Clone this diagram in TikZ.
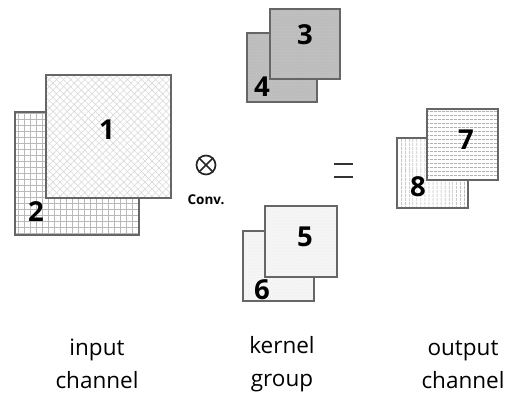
\documentclass[tikz,border=0pt]{standalone}
\usepackage{fontspec}
\setmainfont{Open Sans}
\usetikzlibrary{patterns.meta}
\begin{document}
\begin{tikzpicture}[x=1pt,y=-1pt,
  frame/.style={draw=gray!80!black, line width=1.3pt},
  num/.style={font=\fontsize{27.5}{27.5}\selectfont\bfseries, text=black, inner sep=0pt},
  caption/.style={font=\fontsize{22.5}{33}\selectfont, align=center, text=black, inner sep=0pt},
  hatch/.style args={#1/#2/#3}{pattern={Lines[angle=#1,distance=#2,line width=0.6pt]}, pattern color=#3},
  dotfill/.style args={#1/#2}{pattern={Dots[radius=0.45pt,distance=#1]}, pattern color=#2}
]
\useasboundingbox (0,0) rectangle (519,419);

% input channel: square 2 (grid) behind square 1 (cross-hatch)
\fill[white] (15,112) rectangle (139,235);
\fill[hatch=0/6pt/gray!55] (15,112) rectangle (139,235);
\fill[hatch=90/6pt/gray!55] (15,112) rectangle (139,235);
\draw[frame] (15,112) rectangle (139,235);
\fill[white] (46,75) rectangle (171,198);
\fill[hatch=45/5pt/gray!30] (46,75) rectangle (171,198);
\fill[hatch=-45/5pt/gray!30] (46,75) rectangle (171,198);
\draw[frame] (46,75) rectangle (171,198);
\node[num] (n1) at (107,130) {1};
\node[num] (n2) at (36,212) {2};

% kernel group, upper pair
\fill[gray!50] (247,33) rectangle (317,102);
\fill[dotfill=3pt/gray!75] (247,33) rectangle (317,102);
\draw[frame] (247,33) rectangle (317,102);
\fill[gray!50] (270,9) rectangle (340,79);
\fill[dotfill=3pt/gray!75] (270,9) rectangle (340,79);
\draw[frame] (270,9) rectangle (340,79);
\node[num] (n3) at (305,35) {3};
\node[num] (n4) at (262,87) {4};

% kernel group, lower pair
\fill[gray!8] (243,231) rectangle (314,301);
\fill[dotfill=3pt/gray!30] (243,231) rectangle (314,301);
\draw[frame] (243,231) rectangle (314,301);
\fill[gray!8] (265,206) rectangle (337,277);
\fill[dotfill=3pt/gray!30] (265,206) rectangle (337,277);
\draw[frame] (265,206) rectangle (337,277);
\node[num] (n5) at (305,237) {5};
\node[num] (n6) at (262,290) {6};

% output channel: vertical lines behind horizontal lines
\fill[white] (397,138) rectangle (468,208);
\fill[hatch=90/4pt/gray!90] (397,138) rectangle (468,208);
\draw[frame] (397,138) rectangle (468,208);
\fill[white] (427,109) rectangle (498,180);
\fill[hatch=0/4pt/gray!90] (427,109) rectangle (498,180);
\draw[frame] (427,109) rectangle (498,180);
\node[num] (n7) at (466,140) {7};
\node[num] (n8) at (418,187) {8};

% convolution operator
\node[circle, draw=black!85, line width=1.7pt, minimum size=19pt, inner sep=0pt] (op) at (206,165) {};
\draw[black!85, line width=1.7pt] (op.north east) -- (op.south west)
  (op.north west) -- (op.south east);
\node[font=\fontsize{13.5}{13.5}\selectfont\bfseries, text=black, inner sep=0pt] (conv) at (206,200) {Conv.};

% equals sign
\coordinate (eqA) at (334,164);
\coordinate (eqB) at (353,164);
\coordinate (eqC) at (334,177);
\coordinate (eqD) at (353,177);
\draw[black!80, line width=2pt] (eqA) -- (eqB) (eqC) -- (eqD);

% captions
\node[caption] (cin) at (97,364) {input\\channel};
\node[caption] (ckern) at (282,364) {kernel\\group};
\node[caption] (cout) at (463,365) {output\\channel};
\end{tikzpicture}
\end{document}
